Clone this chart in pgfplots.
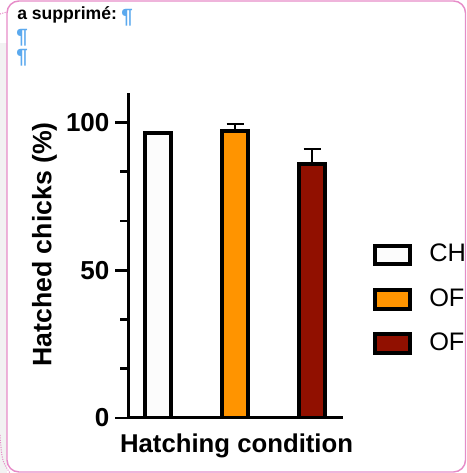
\documentclass[border=0pt]{standalone}
\usepackage{pgfplots}
\pgfplotsset{compat=1.18}
\usepackage{fontspec}
\setmainfont{Liberation Sans}

\definecolor{barwhite}{HTML}{FCFCFC}
\definecolor{barorange}{HTML}{FF9400}
\definecolor{barred}{HTML}{911000}
\definecolor{commentpink}{HTML}{E68CC8}
\definecolor{markblue}{HTML}{5BA9EE}

\pgfplotsset{
  boxlegend/.style={
    legend image code/.code={
      \draw[##1, line width=3pt] (0pt,-7pt) rectangle (26.25pt,7pt);
    }
  }
}

\begin{document}
\begin{tikzpicture}[x=0.75pt,y=0.75pt]
\useasboundingbox (0,0) rectangle (466,473);
\clip (0,0) rectangle (466,473);

% margin strip and comment balloon
\fill[black!5] (0,0) rectangle (6.5,430);
\draw[commentpink, line width=1.1pt, rounded corners=9] (7,1) rectangle (465.5,472);
\draw[commentpink, densely dotted, line width=0.8pt] (0,459) -- (7,461);
\draw[commentpink, densely dotted, line width=0.8pt] (0,38) .. controls (2,12) .. (10,0);

% deleted-text note with paragraph marks
\node[anchor=base west, inner sep=0pt, font=\bfseries\fontsize{13.2}{16}\selectfont] at (17,453)
  {a supprimé:};
\begin{scope}[every node/.style={anchor=base west, inner sep=0pt, text=markblue,
    font=\bfseries\fontsize{15.5}{18}\selectfont}]
  \node at (121,449) {¶};
  \node at (16,429) {¶};
  \node at (16,409) {¶};
\end{scope}

\begin{axis}[
  at={(96pt,41.25pt)}, anchor=south west,
  scale only axis, width=161.25pt, height=243.75pt,
  xmin=-0.39, xmax=2.40, ymin=0, ymax=110,
  axis x line*=bottom, axis y line*=left,
  axis line style={line width=2.25pt, -},
  ybar, bar width=19.5pt,
  xtick=\empty,
  ytick={0,50,100}, minor y tick num=2,
  tick align=outside,
  major tick length=9.75pt, minor tick length=6pt,
  tick style={line width=2pt, black},
  /pgf/number format/assume math mode=true,
  yticklabel style={font=\bfseries\fontsize{19.5}{22}\selectfont, inner sep=1pt, xshift=-3pt},
  xlabel={Hatching condition},
  xlabel style={font=\bfseries\fontsize{19.3}{22}\selectfont,
    at={(axis description cs:0.505,-0.107)}, anchor=base},
  ylabel={Hatched chicks (\%)},
  ylabel style={font=\bfseries\fontsize{20}{24}\selectfont,
    at={(axis description cs:-0.356,0.534)}, anchor=base},
  legend style={draw=none, fill=none, inner sep=0pt,
    at={(axis description cs:1.1395,0.537)}, anchor=north west,
    font=\fontsize{19}{22}\selectfont, row sep=16.2pt,
    nodes={inner sep=0pt, text height=13pt, text depth=3pt},
    /tikz/every odd column/.append style={column sep=12.75pt}},
  legend cell align=left,
]
\addplot[boxlegend, draw=black, line width=3pt, fill=barwhite, bar shift=0pt]
  coordinates {(0,96.6)};
\addplot[boxlegend, draw=black, line width=3pt, fill=barorange, bar shift=0pt,
  error bars/.cd, y dir=plus, y explicit,
  error bar style={line width=1.5pt, black},
  error mark options={rotate=90, mark size=6.4pt, line width=1.5pt, black}]
  coordinates {(1,97.3) +- (0,2.2)};
\addplot[boxlegend, draw=black, line width=3pt, fill=barred, bar shift=0pt,
  error bars/.cd, y dir=plus, y explicit,
  error bar style={line width=1.5pt, black},
  error mark options={rotate=90, mark size=6.4pt, line width=1.5pt, black}]
  coordinates {(2,86.1) +- (0,5.1)};
\legend{CH, OF, OF}
\end{axis}
\end{tikzpicture}
\end{document}
